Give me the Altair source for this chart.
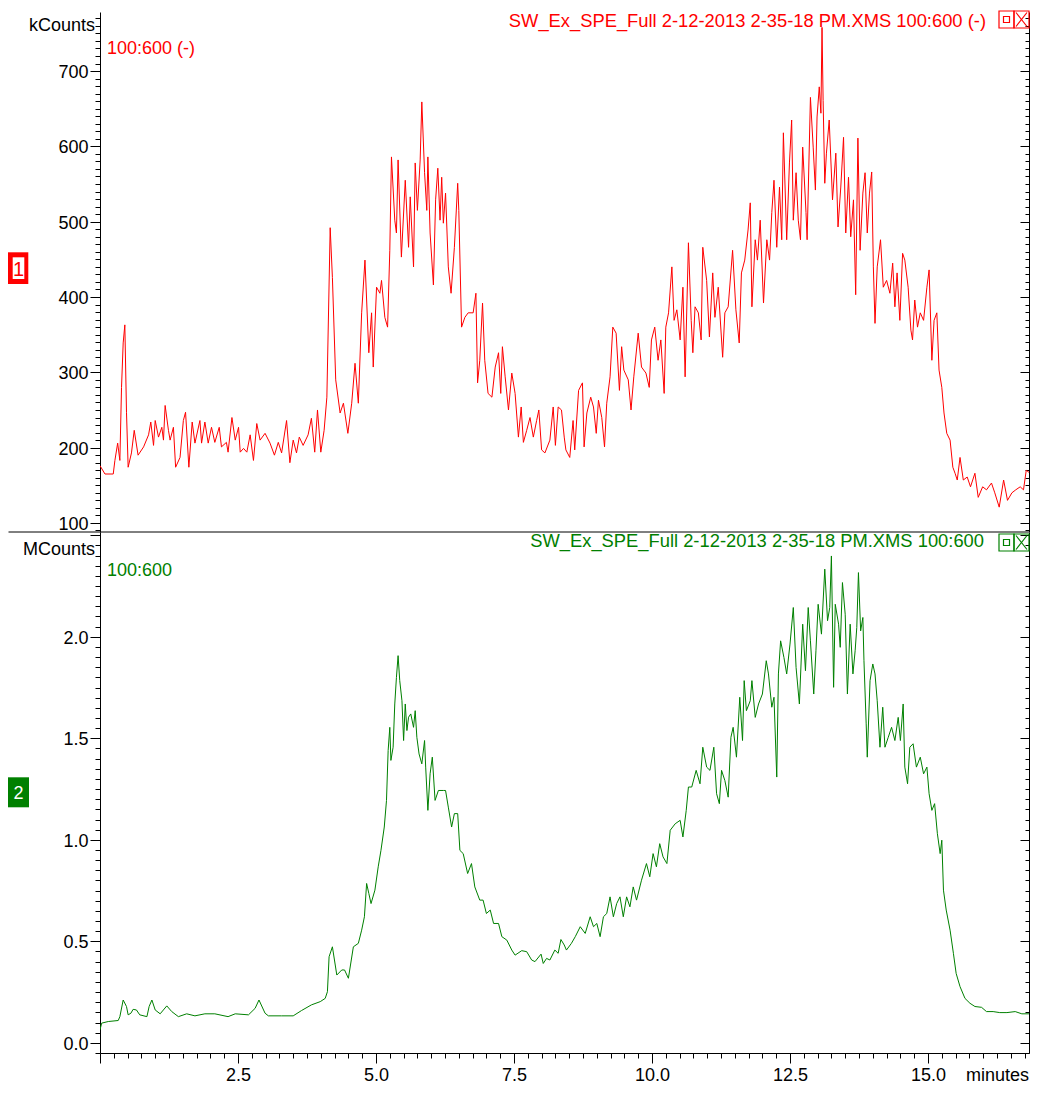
import altair as alt
import pandas as pd

# ---------------- data ----------------
red_time = [
    0.00, 0.09, 0.24, 0.27, 0.32, 0.36, 0.39, 0.42, 0.45, 0.48,
    0.51, 0.57, 0.62, 0.69, 0.79, 0.88, 0.92, 0.97, 1.00, 1.06,
    1.12, 1.15, 1.18, 1.24, 1.27, 1.33, 1.37, 1.45, 1.51, 1.55,
    1.61, 1.67, 1.72, 1.81, 1.84, 1.90, 1.96, 2.02, 2.08, 2.16,
    2.20, 2.29, 2.32, 2.39, 2.45, 2.51, 2.54, 2.60, 2.66, 2.72,
    2.78, 2.84, 2.90, 2.99, 3.08, 3.16, 3.23, 3.29, 3.38, 3.44,
    3.50, 3.56, 3.61, 3.68, 3.77, 3.83, 3.89, 3.94, 4.00, 4.06,
    4.11, 4.17, 4.21, 4.27, 4.35, 4.41, 4.49, 4.56, 4.62, 4.68,
    4.74, 4.80, 4.87, 4.92, 4.95, 5.01, 5.07, 5.10, 5.16, 5.21,
    5.25, 5.28, 5.34, 5.37, 5.40, 5.46, 5.53, 5.59, 5.62, 5.68,
    5.71, 5.75, 5.80, 5.83, 5.88, 5.92, 5.94, 5.98, 6.04, 6.08,
    6.12, 6.16, 6.19, 6.22, 6.26, 6.31, 6.36, 6.42, 6.48, 6.50,
    6.55, 6.61, 6.67, 6.76, 6.81, 6.84, 6.88, 6.93, 6.97, 7.03,
    7.10, 7.16, 7.22, 7.26, 7.29, 7.34, 7.40, 7.46, 7.52, 7.58,
    7.63, 7.67, 7.73, 7.79, 7.85, 7.91, 7.95, 8.00, 8.06, 8.15,
    8.21, 8.25, 8.30, 8.36, 8.41,
    8.44, 8.51, 8.57, 8.60, 8.67, 8.74, 8.77, 8.82, 8.89, 8.94,
    8.99, 9.03, 9.09, 9.14, 9.18, 9.24, 9.29, 9.35, 9.41, 9.45,
    9.49, 9.57, 9.62, 9.67, 9.75, 9.81, 9.89, 9.95, 9.99, 10.05,
    10.11, 10.16, 10.22, 10.25, 10.30, 10.36, 10.40, 10.45, 10.51, 10.56,
    10.60, 10.66, 10.71, 10.74, 10.78, 10.84, 10.89, 10.92, 10.99, 11.04,
    11.10, 11.14, 11.20, 11.28, 11.32, 11.38, 11.46, 11.52, 11.58, 11.62,
    11.68, 11.74, 11.78, 11.81, 11.87, 11.91, 11.96, 12.02, 12.08, 12.13,
    12.17, 12.21, 12.26, 12.31, 12.35, 12.38, 12.44, 12.49, 12.53, 12.56,
    12.61, 12.65, 12.69, 12.73, 12.79, 12.81, 12.87, 12.92, 12.96, 12.99,
    13.03, 13.06, 13.08, 13.10, 13.13, 13.16, 13.21, 13.27, 13.33, 13.37,
    13.42, 13.47, 13.51, 13.56, 13.60, 13.65, 13.69, 13.73, 13.77, 13.82,
    13.86, 13.90, 13.94, 13.98, 14.01, 14.04, 14.08, 14.14, 14.19, 14.25,
    14.31, 14.36, 14.40, 14.44, 14.49, 14.54, 14.58, 14.64, 14.69, 14.72,
    14.76, 14.81, 14.86, 14.92, 14.98, 15.02, 15.07, 15.11, 15.16, 15.20,
    15.25, 15.29, 15.34, 15.40, 15.45, 15.49, 15.53, 15.58, 15.64, 15.71,
    15.77, 15.85, 15.91, 15.99, 16.06, 16.15, 16.21, 16.29, 16.37, 16.44,
    16.52, 16.59, 16.67, 16.73, 16.78, 16.85, 16.94,
]
red_kcounts = [
    176, 165, 165, 183, 206, 183, 280, 339, 363, 247,
    174, 193, 223, 190, 201, 217, 234, 203, 236, 214,
    227, 210, 256, 223, 210, 227, 174, 187, 236, 247,
    174, 234, 206, 236, 206, 234, 206, 227, 207, 227,
    201, 207, 194, 240, 210, 227, 194, 199, 194, 217,
    183, 232, 210, 219, 206, 190, 207, 193, 236, 180,
    210, 193, 214, 203, 217, 239, 194, 250, 194, 223,
    267, 492, 426, 290, 246, 259, 219, 259, 312, 259,
    379, 449, 326, 379, 307, 413, 405, 422, 373, 360,
    462, 586, 502, 485, 582, 453, 555, 466, 533, 440,
    578, 515, 582, 659, 565, 515, 586, 485, 416, 529,
    571, 502, 559, 498, 538, 440, 405, 466, 551, 515,
    360, 373, 379, 379, 405, 286, 316, 392, 316, 272,
    267, 307, 326, 272, 334, 294, 250, 299, 272, 214,
    254, 207, 223, 240, 214, 236, 250, 197, 193, 210,
    254, 203, 254, 250, 214,
    197, 187, 236, 197, 276, 286, 201, 246, 267, 254,
    219, 263, 240, 201, 259, 294, 360, 352, 276, 334,
    303, 290, 250, 294, 352, 307, 299, 280, 343, 360,
    316, 343, 272, 360, 379, 440, 369, 383, 343, 413,
    294, 472, 369, 326, 387, 379, 343, 466, 422, 347,
    432, 373, 413, 320, 379, 387, 462, 383, 339, 432,
    449, 489, 525, 387, 476, 449, 502, 392, 476, 449,
    512, 555, 466, 546, 476, 618, 476, 578, 635, 502,
    565, 502, 476, 599, 512, 476, 665, 599, 542, 639,
    679, 644, 758, 661, 551, 591, 635, 529, 591, 493,
    546, 612, 485, 559, 480, 529, 403, 611, 462, 538,
    565, 485, 538, 566, 440, 365, 440, 476, 413, 422,
    405, 445, 387, 432, 369, 458, 449, 413, 356, 343,
    396, 360, 379, 369, 413, 436, 316, 369, 379, 303,
    280, 246, 219, 210, 174, 166, 157, 187, 157, 161,
    148, 166, 134, 148, 144, 153, 140, 121, 157, 130,
    140, 144, 148, 144, 170, 166, 173,
]

green_time = [
    0.00, 0.03, 0.15, 0.33, 0.36, 0.42, 0.48, 0.51, 0.56, 0.60,
    0.66, 0.72, 0.85, 0.89, 0.94, 1.00, 1.09, 1.21, 1.30, 1.42,
    1.57, 1.72, 1.90, 2.08, 2.32, 2.45, 2.69, 2.81, 2.88, 2.99,
    3.05, 3.29, 3.50, 3.65, 3.83, 3.99, 4.08, 4.12, 4.15, 4.21,
    4.29, 4.38, 4.43, 4.50, 4.59, 4.68, 4.74, 4.79, 4.83, 4.87,
    4.91, 4.98, 5.04, 5.09, 5.15, 5.19, 5.22, 5.25, 5.27, 5.31,
    5.34, 5.37, 5.40, 5.43, 5.47, 5.50, 5.53, 5.56, 5.59, 5.63,
    5.68, 5.71, 5.74, 5.78, 5.83, 5.88, 5.90, 5.94, 5.98, 6.02,
    6.07, 6.13, 6.22, 6.26, 6.31, 6.37, 6.42, 6.48, 6.52, 6.58,
    6.66, 6.73, 6.79, 6.88, 6.94, 7.00, 7.07, 7.13, 7.22, 7.28,
    7.37, 7.46, 7.52, 7.64, 7.73, 7.82, 7.88, 7.99, 8.03, 8.09,
    8.15, 8.24, 8.30, 8.35, 8.41,
    8.45, 8.54, 8.61, 8.70, 8.79, 8.88, 8.94, 9.00, 9.06, 9.12,
    9.18, 9.24, 9.30, 9.36, 9.42, 9.48, 9.54, 9.60, 9.66, 9.72,
    9.81, 9.90, 9.96, 10.02, 10.08, 10.14, 10.20, 10.27, 10.33, 10.42,
    10.51, 10.56, 10.62, 10.66, 10.72, 10.80, 10.87, 10.92, 10.99, 11.05,
    11.12, 11.17, 11.22, 11.26, 11.32, 11.38, 11.43, 11.47, 11.53, 11.59,
    11.64, 11.67, 11.71, 11.78, 11.81, 11.87, 11.93, 12.00, 12.07, 12.11,
    12.17, 12.21, 12.26, 12.29, 12.33, 12.39, 12.44, 12.50, 12.56, 12.61,
    12.67, 12.73, 12.78, 12.83, 12.87, 12.93, 12.97, 13.01, 13.07, 13.13,
    13.18, 13.22, 13.25, 13.29, 13.32, 13.38, 13.41, 13.45, 13.50, 13.54,
    13.59, 13.64, 13.68, 13.71, 13.74, 13.78, 13.82, 13.84, 13.88, 13.90,
    13.95, 14.00, 14.04, 14.08, 14.13, 14.18, 14.22, 14.28, 14.34, 14.40,
    14.46, 14.50, 14.55, 14.58, 14.63, 14.67, 14.73, 14.79, 14.86, 14.92,
    14.98, 15.02, 15.07, 15.12, 15.17, 15.22, 15.25, 15.28, 15.33, 15.40,
    15.46, 15.51, 15.58, 15.67, 15.76, 15.85, 15.97, 16.06, 16.18, 16.30,
    16.43, 16.58, 16.70, 16.85, 16.94,
]
green_mcounts = [
    0.064, 0.097, 0.105, 0.110, 0.129, 0.211, 0.179, 0.138, 0.146, 0.165,
    0.162, 0.138, 0.129, 0.179, 0.211, 0.162, 0.143, 0.182, 0.154, 0.129,
    0.143, 0.133, 0.143, 0.143, 0.129, 0.143, 0.138, 0.170, 0.211, 0.146,
    0.133, 0.133, 0.133, 0.159, 0.187, 0.203, 0.219, 0.252, 0.424, 0.473,
    0.334, 0.359, 0.359, 0.318, 0.473, 0.490, 0.555, 0.621, 0.785, 0.736,
    0.686, 0.752, 0.867, 0.948, 1.063, 1.194, 1.440, 1.554, 1.391, 1.456,
    1.669, 1.800, 1.907, 1.784, 1.685, 1.489, 1.669, 1.538, 1.604, 1.620,
    1.554, 1.636, 1.505, 1.423, 1.374, 1.489, 1.358, 1.145, 1.325, 1.407,
    1.194, 1.243, 1.243, 1.243, 1.161, 1.063, 1.129, 1.129, 0.948, 0.932,
    0.834, 0.883, 0.768, 0.703, 0.703, 0.637, 0.654, 0.588, 0.588, 0.523,
    0.506, 0.457, 0.432, 0.454, 0.449, 0.408, 0.400, 0.437, 0.391, 0.416,
    0.408, 0.457, 0.441, 0.509, 0.482,
    0.457, 0.490, 0.523, 0.572, 0.539, 0.621, 0.572, 0.588, 0.523, 0.621,
    0.637, 0.719, 0.621, 0.686, 0.719, 0.621, 0.719, 0.670, 0.768, 0.703,
    0.801, 0.883, 0.818, 0.932, 0.867, 0.981, 0.916, 0.883, 1.047, 1.079,
    1.096, 1.014, 1.145, 1.260, 1.260, 1.342, 1.276, 1.456, 1.358, 1.342,
    1.456, 1.227, 1.178, 1.342, 1.292, 1.210, 1.505, 1.554, 1.407, 1.702,
    1.489, 1.784, 1.636, 1.685, 1.784, 1.603, 1.669, 1.718, 1.882, 1.817,
    1.653, 1.702, 1.309, 1.817, 1.980, 1.898, 1.817, 1.964, 2.144, 1.849,
    1.669, 2.062, 1.833, 2.144, 1.980, 1.718, 1.931, 2.160, 2.013, 2.333,
    2.079, 2.144, 2.398, 1.751, 2.160, 2.062, 1.948, 2.267, 2.111, 1.718,
    2.062, 1.817, 1.931, 2.046, 2.316, 2.029, 2.095, 1.882, 1.571, 1.407,
    1.784, 1.866, 1.817, 1.685, 1.456, 1.653, 1.456, 1.505, 1.554, 1.489,
    1.603, 1.489, 1.669, 1.358, 1.276, 1.456, 1.473, 1.358, 1.407, 1.325,
    1.358, 1.227, 1.145, 1.178, 1.030, 0.932, 0.998, 0.752, 0.654, 0.555,
    0.441, 0.342, 0.277, 0.219, 0.195, 0.179, 0.175, 0.154, 0.154, 0.149,
    0.149, 0.154, 0.143, 0.143, 0.149,
]

# tick values of the axes
top_tick_values = list(range(90, 771, 10))                       # kCounts
bottom_tick_values = [round(-0.05 + 0.05 * i, 2) for i in range(52)]  # MCounts
x_tick_values = [round(0.25 * i, 2) for i in range(68)]          # minutes

# texts
header_top = "SW_Ex_SPE_Full 2-12-2013 2-35-18 PM.XMS 100:600 (-)"
header_bottom = "SW_Ex_SPE_Full 2-12-2013 2-35-18 PM.XMS 100:600"
trace_top = "100:600 (-)"
trace_bottom = "100:600"

# ---------------- styling ----------------
RED = "#ff0000"
GREEN = "#008000"
FONT = "Liberation Sans"
FS = 18
HFS = 18.35
W = 929
H1 = 520
H2 = 521
XMAX = W / 55.2

red_df = pd.DataFrame({"t": red_time, "v": red_kcounts})
green_df = pd.DataFrame({"t": green_time, "v": green_mcounts})
one = pd.DataFrame({"s": [""]})

x_scale = alt.Scale(domain=[0, XMAX], nice=False, zero=False)
top_scale = alt.Scale(domain=[88, 778.4], nice=False, zero=False)
bot_scale = alt.Scale(domain=[-0.05, 2.516], nice=False, zero=False)

TOP_MAJOR = "datum.value % 100 === 0"
BOT_MAJOR = "abs(datum.value * 2 - round(datum.value * 2)) < 0.0001"
X_MAJOR = "abs(datum.value / 2.5 - round(datum.value / 2.5)) < 0.0001"


def cond(test, a, b):
    return {"condition": {"test": test, "value": a}, "value": b}


common_axis = dict(
    title=None, grid=False, labelOverlap=False, labelFont=FONT, labelFontSize=FS,
    labelColor="black", domainColor="black", tickColor="black",
)

top_left_axis = alt.Axis(
    values=top_tick_values, tickSize=cond(TOP_MAJOR, 10, 5), labelPadding=2, labelOffset=1.5,
    labelExpr=f"({TOP_MAJOR}) && datum.value >= 100 && datum.value <= 700 ? datum.label : ''",
    format="d", **common_axis)
top_right_axis = alt.Axis(
    values=top_tick_values, tickSize=cond(TOP_MAJOR, 9, 4), labels=False,
    orient="left", offset=-W, **common_axis)
bot_left_axis = alt.Axis(
    values=bottom_tick_values, tickSize=cond(BOT_MAJOR, 10, 5), labelPadding=2, labelOffset=1.5,
    labelExpr=f"({BOT_MAJOR}) && datum.value >= 0 && datum.value <= 2.01 ? datum.label : ''",
    format=".1f", **common_axis)
bot_right_axis = alt.Axis(
    values=bottom_tick_values, tickSize=cond(BOT_MAJOR, 9, 4), labels=False,
    orient="left", offset=-W, **common_axis)
x_axis = alt.Axis(
    values=x_tick_values, tickSize=cond(X_MAJOR, 10, 5), labelPadding=3,
    labelExpr=f"({X_MAJOR}) && datum.value > 0 ? datum.label : ''",
    format=".1f", labelFlush=False, **common_axis)


def text(s, x, y, color, align="left", size=FS):
    return alt.Chart(pd.DataFrame({"s": [s]})).mark_text(
        align=align, baseline="middle", font=FONT, fontSize=size, color=color
    ).encode(x=alt.value(x), y=alt.value(y), text="s:N")


def rect(x, x2, y, y2, fill=None, stroke=None, sw=1):
    kw = {}
    if fill is not None:
        kw["fill"] = fill
    else:
        kw["filled"] = False
    if stroke is not None:
        kw["stroke"] = stroke
        kw["strokeWidth"] = sw
    return alt.Chart(one).mark_rect(**kw).encode(
        x=alt.value(x), x2=alt.value(x2), y=alt.value(y), y2=alt.value(y2))


def rule(x, x2, y, y2, color, sw=1, opacity=1):
    return alt.Chart(one).mark_rule(color=color, strokeWidth=sw, strokeOpacity=opacity).encode(
        x=alt.value(x), x2=alt.value(x2), y=alt.value(y), y2=alt.value(y2))


def icons(color, y0):
    h = 17
    return [
        rect(W - 30, W - 15, y0, y0 + h, stroke=color, sw=1.2),
        rect(W - 15, W, y0, y0 + h, stroke=color, sw=1.2),
        rect(W - 25.5, W - 19.5, y0 + 5.5, y0 + 11.5, stroke=color, sw=1.2),
        rule(W - 13, W - 2, y0 + 1.5, y0 + h - 1.5, color, 1.2),
        rule(W - 2, W - 13, y0 + 1.5, y0 + h - 1.5, color, 1.2),
    ]


# ---------------- top panel ----------------
red_line = alt.Chart(red_df).mark_line(color=RED, strokeWidth=1, clip=True).encode(
    x=alt.X("t:Q", scale=x_scale, axis=None),
    y=alt.Y("v:Q", scale=top_scale, axis=top_left_axis),
)
red_right = alt.Chart(red_df).mark_point(opacity=0).encode(
    y=alt.Y("v:Q", scale=top_scale, axis=top_right_axis),
)
top_layers = [
    red_line, red_right,
    rule(-91.5, W, -3.5, -3.5, "white", 1, 0),          # anchors top-left of page
    rule(-91.5, W, H1, H1, "black", 1),                 # separator line
    text("kCounts", -5, 14, "black", "right"),
    text(trace_top, 7, 37, RED),
    text(header_top, 886, 9, RED, "right", HFS),
    rect(-92, -71.7, 240.3, 272, fill=RED),
    rect(-87.3, -75.7, 245.3, 267, fill="white"),
    text("1", -81.5, 257.5, RED, "center", 20),
] + icons(RED, -1)
top = alt.layer(*top_layers).resolve_axis(y="independent").properties(width=W, height=H1)

# ---------------- bottom panel ----------------
green_line = alt.Chart(green_df).mark_line(color=GREEN, strokeWidth=1, clip=True).encode(
    x=alt.X("t:Q", scale=x_scale, axis=x_axis),
    y=alt.Y("v:Q", scale=bot_scale, axis=bot_left_axis),
)
green_right = alt.Chart(green_df).mark_point(opacity=0).encode(
    y=alt.Y("v:Q", scale=bot_scale, axis=bot_right_axis),
)
bottom_layers = [
    green_line, green_right,
    text("MCounts", -5, 17.5, "black", "right"),
    text(trace_bottom, 7, 38.5, GREEN),
    text(header_bottom, 884, 9, GREEN, "right", HFS),
    rect(-92, -71, 245.3, 275.3, fill=GREEN),
    text("2", -81.5, 261.5, "white", "center", FS),
    text("minutes", W, 544, "black", "right"),
] + icons(GREEN, 2)
bottom = alt.layer(*bottom_layers).resolve_axis(y="independent").properties(width=W, height=H2)

chart = alt.vconcat(top, bottom, spacing=0, bounds="flush").properties(
    padding=0
).configure_view(stroke=None)

chart.save("out.html", embed_options={"renderer": "svg", "actions": False})
